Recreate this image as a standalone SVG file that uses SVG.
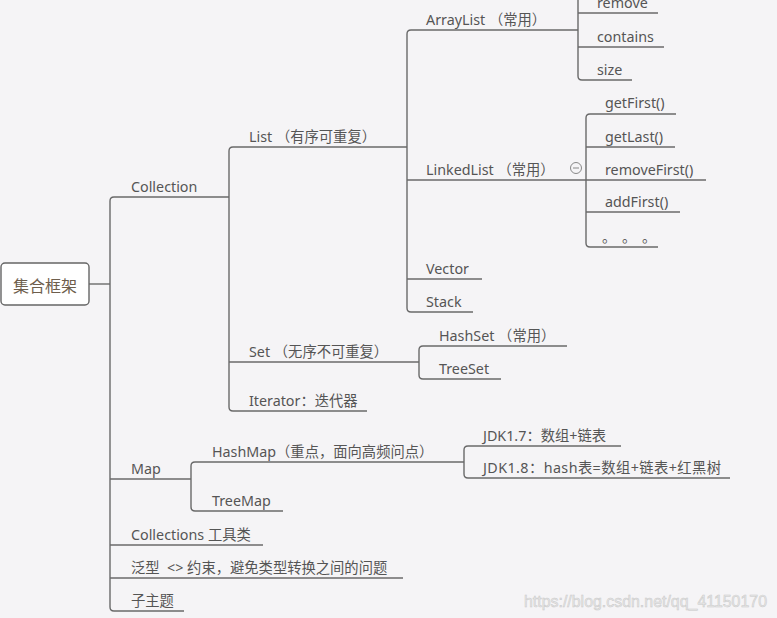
<svg xmlns="http://www.w3.org/2000/svg" width="777" height="618" viewBox="0 0 777 618">
<style>
.t{font-family:"Noto Sans","Noto Sans CJK SC",sans-serif;font-size:14.3px;fill:#555;white-space:pre}
.c{fill:none;stroke:#6a6a6a;stroke-width:1.4}
.wm{font-family:"Liberation Sans",sans-serif;font-size:16px;fill:#e8e8e8;stroke:#c9c9c9;stroke-width:0.5}
</style>
<rect width="777" height="618" fill="#f5f4f6"/>
<g id="connectors" class="c">
<path d="M89 284H110"/>
<path d="M229 197H114Q110 197 110 201V607Q110 611 114 611H184"/>
<path d="M110 479H191"/><path d="M110 545H263"/><path d="M110 578H403"/>
<path d="M407 147H233Q229 147 229 151V407Q229 411 233 411H367"/>
<path d="M229 362H419"/>
<path d="M578 30H411Q407 30 407 34V308Q407 312 411 312H473"/>
<path d="M407 180H586"/><path d="M407 279H482"/>
<path d="M578 -5V76Q578 80 582 80H632"/>
<path d="M578 13H658"/><path d="M578 47H664"/>
<path d="M676 114H590Q586 114 586 118V243Q586 247 590 247H658"/>
<path d="M586 147H675"/><path d="M586 180H706"/><path d="M586 212H680"/>
<path d="M567 346H423Q419 346 419 350V375Q419 379 423 379H501"/>
<path d="M464 462H195Q191 462 191 466V507Q191 511 195 511H283"/>
<path d="M621 446H468Q464 446 464 450V474Q464 478 468 478H730"/>
</g>
<g id="root">
<rect x="1" y="263" width="88" height="42" rx="4" fill="#fff" stroke="#666" stroke-width="1.4"/>
<text x="45" y="292" text-anchor="middle" style="font-family:'Noto Sans CJK SC',sans-serif;font-size:16px;fill:#6e5e4c">集合框架</text>
</g>
<g id="collection"><text class="t" x="131" y="192">Collection</text></g>
<g id="list"><text class="t" x="249" y="142">List （有序可重复）</text></g>
<g id="arraylist"><text class="t" x="426" y="25">ArrayList （常用）</text></g>
<g id="remove"><text class="t" x="597" y="8">remove</text></g>
<g id="contains"><text class="t" x="597" y="42">contains</text></g>
<g id="size"><text class="t" x="597" y="75">size</text></g>
<g id="linkedlist"><text class="t" x="426" y="175">LinkedList （常用）</text>
<circle cx="576" cy="168" r="5.5" fill="none" stroke="#888" stroke-width="1"/><path d="M573 168H579" stroke="#888" stroke-width="1"/></g>
<g id="getfirst"><text class="t" x="605" y="108">getFirst()</text></g>
<g id="getlast"><text class="t" x="605" y="142">getLast()</text></g>
<g id="removefirst"><text class="t" x="605" y="175">removeFirst()</text></g>
<g id="addfirst"><text class="t" x="605" y="207">addFirst()</text></g>
<g id="etc"><text class="t" x="602" y="242" letter-spacing="1">。 。 。</text></g>
<g id="vector"><text class="t" x="426" y="274">Vector</text></g>
<g id="stack"><text class="t" x="426" y="307">Stack</text></g>
<g id="set"><text class="t" x="249" y="357">Set （无序不可重复）</text></g>
<g id="hashset"><text class="t" x="439" y="341">HashSet （常用）</text></g>
<g id="treeset"><text class="t" x="439" y="374">TreeSet</text></g>
<g id="iterator"><text class="t" x="249" y="406">Iterator：迭代器</text></g>
<g id="map"><text class="t" x="131" y="474">Map</text></g>
<g id="hashmap"><text class="t" x="212" y="457">HashMap（重点，面向高频问点）</text></g>
<g id="jdk17"><text class="t" x="483" y="441">JDK1.7：数组+链表</text></g>
<g id="jdk18"><text class="t" x="483" y="473" textLength="238" lengthAdjust="spacing">JDK1.8：hash表=数组+链表+红黑树</text></g>
<g id="treemap"><text class="t" x="212" y="506">TreeMap</text></g>
<g id="collections"><text class="t" x="131" y="540">Collections 工具类</text></g>
<g id="generic"><text class="t" x="131" y="573">泛型  &lt;&gt; 约束，避免类型转换之间的问题</text></g>
<g id="subtopic"><text class="t" x="131" y="606">子主题</text></g>
<text class="wm" x="524" y="607" textLength="243" lengthAdjust="spacingAndGlyphs">https://blog.csdn.net/qq_41150170</text>
</svg>
